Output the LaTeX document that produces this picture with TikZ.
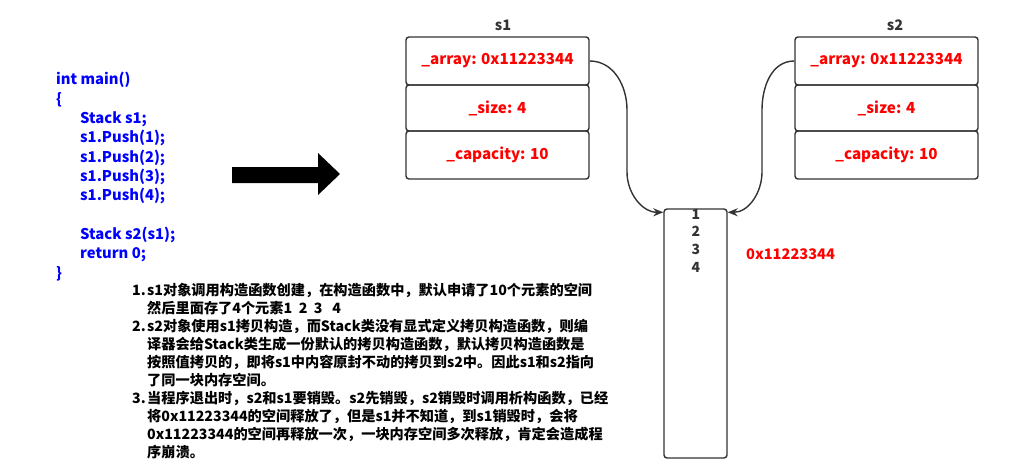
\documentclass[tikz,border=0pt]{standalone}
\usepackage{fontspec}
\setmainfont{Noto Sans CJK SC}
\usetikzlibrary{arrows.meta}
\definecolor{codeblue}{RGB}{0,0,255}
\definecolor{fieldred}{RGB}{255,0,0}
\definecolor{edge}{RGB}{51,51,51}
\tikzset{
  code/.style={anchor=base west, inner sep=0pt, text=codeblue, font=\fontsize{14.8}{16}\selectfont\bfseries},
  note/.style={anchor=base west, inner sep=0pt, text=black, font=\fontsize{14.2}{16}\selectfont\bfseries},
  field/.style={draw=edge, line width=1.4pt, rounded corners=3pt, minimum width=183pt, text=fieldred, font=\fontsize{15.2}{16}\selectfont\bfseries, inner sep=0pt},
  title/.style={text=edge, font=\fontsize{14.5}{16}\selectfont\bfseries, inner sep=0pt},
  link/.style={draw=edge, line width=1.4pt, -{Stealth[length=10pt,width=8pt]}},
}
\begin{document}
\begin{tikzpicture}[x=1pt,y=-1pt]
\useasboundingbox (0,0) rectangle (1020,476);
% code
\node[code] (c0) at (56,85) {int main()};
\node[code] (c1) at (56,104.3) {\{};
\node[code] (c2) at (80,123.6) {Stack s1;};
\node[code] (c3) at (80,142.9) {s1.Push(1);};
\node[code] (c4) at (80,162.2) {s1.Push(2);};
\node[code] (c5) at (80,181.5) {s1.Push(3);};
\node[code] (c6) at (80,200.8) {s1.Push(4);};
\node[code] (c8) at (80,239.4) {Stack s2(s1);};
\node[code] (c9) at (80,258.7) {return 0;};
\node[code] (c10) at (56,278) {\}};
% big arrow
\fill[black] (232,167) -- (318,167) -- (318,153) -- (340,174) -- (318,195) -- (318,183) -- (232,183) -- cycle;
% s1 object
\node[title] (t1) at (503,25) {s1};
\node[field, minimum height=48pt] (s1a) at (497.5,61) {\_array: 0x11223344};
\node[field, minimum height=46pt] (s1b) at (497.5,108) {\_size: 4};
\node[field, minimum height=48pt] (s1c) at (497.5,155) {\_capacity: 10};
% s2 object
\node[title] (t2) at (895,25) {s2};
\node[field, minimum height=48pt] (s2a) at (886.5,61) {\_array: 0x11223344};
\node[field, minimum height=46pt] (s2b) at (886.5,108) {\_size: 4};
\node[field, minimum height=48pt] (s2c) at (886.5,155) {\_capacity: 10};
% memory
\node[draw=edge, line width=1.4pt, rounded corners=3pt, minimum width=63pt, minimum height=249pt, inner sep=0pt] (mem) at (695.5,333.5) {};
\node[inner sep=0pt, anchor=north, align=center, text=edge, font=\fontsize{14}{17.6}\selectfont\bfseries] (nums) at (696,209) {1\\2\\3\\4};
\node[inner sep=0pt, text=fieldred, font=\fontsize{14.6}{16}\selectfont\bfseries, anchor=west] (addr) at (746,254) {0x11223344};
% links
\draw[link] (s1a.east) to[out=0,in=90] (627,110) -- (627,172) to[out=-90,in=180] ([yshift=-4pt]mem.north west);
\draw[link] (s2a.west) to[out=180,in=90] (762,110) -- (762,172) to[out=-90,in=0] ([yshift=-4pt]mem.north east);
% notes
\node[note] (n1) at (132,295) {1.};
\node[note] (l1) at (147,295) {s1对象调用构造函数创建，在构造函数中，默认申请了10个元素的空间};
\node[note] (l2) at (147,313) {然后里面存了4个元素1\ \ 2\ \ 3\ \ \ 4};
\node[note] (n2) at (132,331) {2.};
\node[note] (l3) at (147,331) {s2对象使用s1拷贝构造，而Stack类没有显式定义拷贝构造函数，则编};
\node[note] (l4) at (147,349) {译器会给Stack类生成一份默认的拷贝构造函数，默认拷贝构造函数是};
\node[note] (l5) at (147,367) {按照值拷贝的，即将s1中内容原封不动的拷贝到s2中。因此s1和s2指向};
\node[note] (l6) at (147,385) {了同一块内存空间。};
\node[note] (n3) at (132,403) {3.};
\node[note] (l7) at (147,403) {当程序退出时，s2和s1要销毁。s2先销毁，s2销毁时调用析构函数，已经};
\node[note] (l8) at (147,421) {将0x11223344的空间释放了，但是s1并不知道，到s1销毁时，会将};
\node[note] (l9) at (147,439) {0x11223344的空间再释放一次，一块内存空间多次释放，肯定会造成程};
\node[note] (l10) at (147,457) {序崩溃。};
\end{tikzpicture}
\end{document}
